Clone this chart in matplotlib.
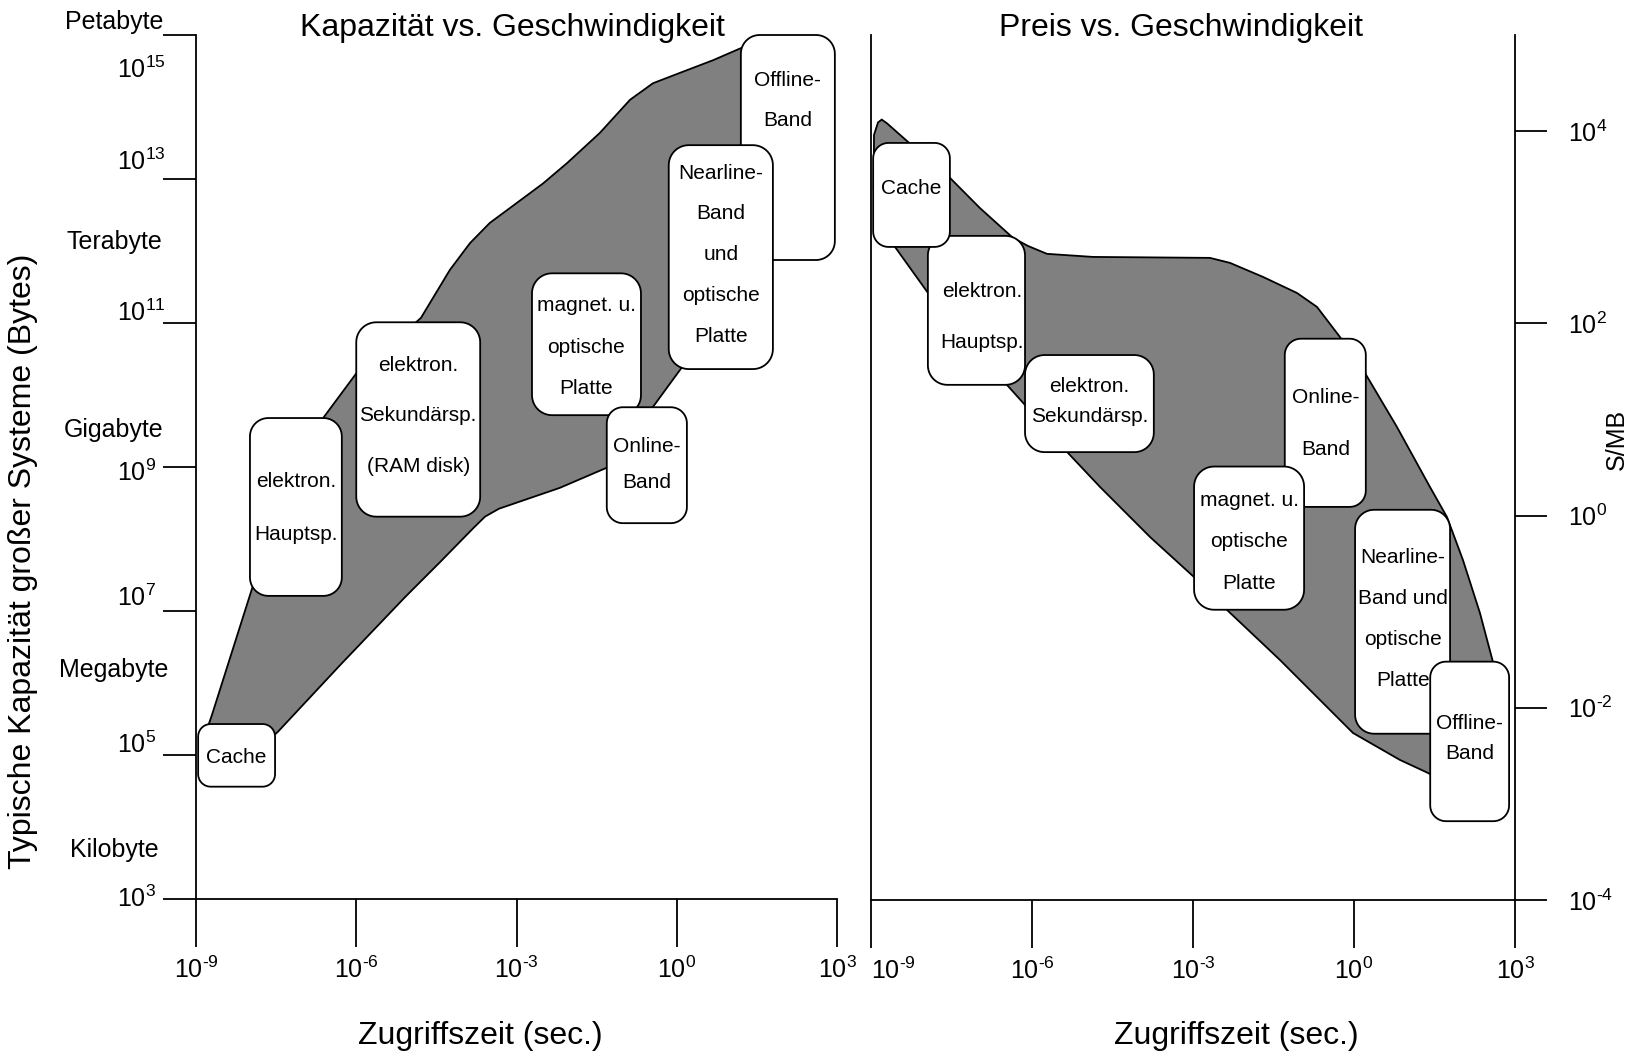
import numpy as np
import matplotlib.pyplot as plt
from matplotlib.transforms import blended_transform_factory

plt.rcParams['font.family'] = ['Liberation Sans', 'DejaVu Sans']
plt.rcParams['mathtext.fontset'] = 'custom'
plt.rcParams['mathtext.rm'] = 'Liberation Sans'
plt.rcParams['mathtext.it'] = 'Liberation Sans:italic'

# ---- data (log10 values) ----
# Kapazitaet vs. Zugriffszeit: outline of the grey band
cap_band_t = [-8.83, -8.70, -7.93, -7.24, -6.62, -6.30, -5.99, -5.37, -4.79, -4.245,
              -3.87, -3.50, -2.99, -2.50, -2.055, -1.44, -0.875, -0.445, 0.115, 0.68,
              1.24, 1.745,
              1.56, 1.28, 0.43, 0.25, -0.45, -0.69, -1.16, -1.31,
              -2.19, -3.33, -3.59, -3.81, -4.43, -5.09, -6.30, -7.47, -7.90]
cap_band_c = [5.28, 5.56, 7.36, 8.82, 9.68, 10.00, 10.31, 10.69, 11.07, 11.74,
              12.11, 12.39, 12.67, 12.94, 13.22, 13.64, 14.10, 14.33, 14.49, 14.65,
              14.83, 14.93,
              14.10, 13.40, 11.32, 10.54, 9.83, 9.58, 9.10, 8.99,
              8.71, 8.42, 8.31, 8.15, 7.68, 7.19, 6.25, 5.32, 5.04]

cap_names = ['Cache', 'elektron.\nHauptsp.', 'elektron.\nSekundärsp.\n(RAM disk)',
             'magnet. u.\noptische\nPlatte', 'Online-\nBand', 'Offline-\nBand',
             'Nearline-\nBand\nund\noptische\nPlatte']
cap_t_lo = [-8.96, -7.99, -6.00, -2.71, -1.31, 1.20, -0.15]
cap_t_hi = [-7.52, -6.27, -3.68, -0.67, 0.19, 2.96, 1.80]
cap_c_lo = [4.56, 7.21, 8.31, 9.72, 8.22, 11.875, 10.36]
cap_c_hi = [5.43, 9.68, 11.01, 11.69, 9.83, 15.0, 13.47]

# Preis vs. Zugriffszeit
price_band_t = [-8.944, -8.87, -8.80, -8.70, -8.311, -7.528, -6.969, -6.354, -6.075, -5.721,
                -4.864, -2.684, -2.311, -1.696, -1.063, -0.69, -0.262, 0.111, 0.204,
                0.80, 1.415, 1.732, 2.03, 2.347, 2.589, 2.627, 1.602, 1.378, 0.857,
                -0.019, -0.392, -1.379, -2.367, -2.963, -3.801, -4.733, -5.329, -6.131,
                -6.466, -7.342, -7.938, -8.553, -8.832, -8.95]
price_band_p = [3.96, 4.09, 4.12, 4.08, 3.888, 3.513, 3.199, 2.889, 2.805, 2.723,
                2.691, 2.681, 2.629, 2.483, 2.316, 2.171, 1.858, 1.567, 1.484,
                0.922, 0.298, -0.015, -0.462, -1.014, -1.523, -1.919, -2.751, -2.678, -2.543,
                -2.262, -2.054, -1.503, -0.982, -0.649, -0.223, 0.298, 0.651, 1.151,
                1.359, 1.879, 2.316, 2.795, 3.076, 3.388]

price_names = ['elektron.\nHauptsp.', 'Cache', 'elektron.\nSekundärsp.', 'Online-\nBand',
               'magnet. u.\noptische\nPlatte', 'Nearline-\nBand und\noptische\nPlatte',
               'Offline-\nBand']
price_t_lo = [-7.94, -8.96, -6.13, -1.29, -2.98, 0.02, 1.42]
price_t_hi = [-6.13, -7.53, -3.73, 0.22, -0.93, 1.79, 2.89]
price_p_lo = [1.36, 2.795, 0.66, 0.09, -0.98, -2.27, -3.18]
price_p_hi = [2.91, 3.877, 1.67, 1.84, 0.51, 0.06, -1.52]

time_exp = [-9, -6, -3, 0, 3]
cap_exp = [3, 5, 7, 9, 11, 13, 15]
cap_units = ['Kilobyte', 'Megabyte', 'Gigabyte', 'Terabyte', 'Petabyte']
cap_unit_exp = [3, 6, 9, 12, 15]
price_exp = [-4, -2, 0, 2, 4]

# label placement tweaks (decades) and text layout in pixels
cap_exp_shift = [0.0, 0.14, 0.19, -0.08, 0.14, 0.24, -0.49]
cap_unit_shift = [0.68, 0.18, 0.51, 0.125, 0.18]
cap_gap = [0, 53, 50.5, 41.5, 35.5, 40, 40.7]
cap_dy = [2.5, 1.5, -3.5, 3, -0.5, -47.5, -2.5]
cap_dx = [0, 0, 0, 0, 0, 0, 0]
price_gap = [51, 0, 30, 52, 41.5, 41, 30]
price_dy = [7, -6, -2.5, 1, 3.5, -3, -2.5]
price_dx = [6, 0, 0, 0, 0, 0, 0]

GREY = '#808080'
LW = 1.3
FS_BOX = 15


def pow10(e):
    # short hyphen instead of the wide math minus
    return r'$\mathregular{10^{%s}}$' % str(e).replace('-', '\u2010')


def rounded_box(ax, lx0, lx1, ly0, ly1, z):
    (x0, y0) = ax.transData.transform((10 ** lx0, 10 ** ly0))
    (x1, y1) = ax.transData.transform((10 ** lx1, 10 ** ly1))
    r = min(20, 0.2 * min(x1 - x0, y1 - y0))
    pts = []
    for cx, cy, a0 in [(x1 - r, y1 - r, 0), (x0 + r, y1 - r, 90),
                       (x0 + r, y0 + r, 180), (x1 - r, y0 + r, 270)]:
        a = np.radians(np.linspace(a0, a0 + 90, 14))
        pts += list(zip(cx + r * np.cos(a), cy + r * np.sin(a)))
    d = ax.transData.inverted().transform(pts)
    ax.fill(d[:, 0], d[:, 1], fc='white', ec='black', lw=LW, zorder=z, clip_on=False)


def box_text(ax, name, lx0, lx1, ly0, ly1, gap, dy, dx, z):
    lines = name.split('\n')
    n = len(lines)
    xc = 10 ** ((lx0 + lx1) / 2)
    yc = 10 ** ((ly0 + ly1) / 2)
    for i, line in enumerate(lines):
        off = -dy + ((n - 1) / 2 - i) * gap
        ax.annotate(line, xy=(xc, yc), xytext=(dx, off), textcoords='offset pixels',
                    ha='center', va='center', fontsize=FS_BOX, zorder=z,
                    annotation_clip=False)


def style_axis(ax):
    ax.set_xscale('log')
    ax.set_yscale('log')
    ax.minorticks_off()
    ax.spines['top'].set_visible(False)
    for s in ax.spines.values():
        s.set_linewidth(LW)
    ax.set_xlim(1e-9, 1e3)
    ax.set_xticks([10.0 ** e for e in time_exp])
    ax.set_xticklabels([pow10(e) for e in time_exp])
    ax.tick_params(axis='x', direction='out', length=34.5, width=LW, pad=7, labelsize=18)
    ax.patch.set_visible(False)


fig = plt.figure(figsize=(16.29, 10.55), dpi=100)
ax1 = fig.add_axes([196 / 1629, 156 / 1055, 641 / 1629, 864 / 1055])
ax2 = fig.add_axes([871 / 1629, 155 / 1055, 644 / 1629, 865 / 1055])

# ---- left panel ----
style_axis(ax1)
ax1.spines['right'].set_visible(False)
ax1.set_ylim(1e3, 1e15)
ax1.set_yticks([10.0 ** e for e in cap_exp])
ax1.set_yticklabels([''] * len(cap_exp))
ax1.tick_params(axis='y', direction='out', length=23.8, width=LW)

ax1.fill(10.0 ** np.array(cap_band_t), 10.0 ** np.array(cap_band_c),
         fc=GREY, ec='black', lw=LW, zorder=1)
for i, name in enumerate(cap_names):
    rounded_box(ax1, cap_t_lo[i], cap_t_hi[i], cap_c_lo[i], cap_c_hi[i], 2 + i)
    box_text(ax1, name, cap_t_lo[i], cap_t_hi[i], cap_c_lo[i], cap_c_hi[i],
             cap_gap[i], cap_dy[i], cap_dx[i], 2.5 + i)

bt1 = blended_transform_factory(ax1.transAxes, ax1.transData)
for e, sh in zip(cap_exp, cap_exp_shift):
    ax1.text(-0.1232, 10 ** (e + sh), pow10(e), transform=bt1,
             ha='left', va='center', fontsize=18)
for u, e, sh in zip(cap_units, cap_unit_exp, cap_unit_shift):
    ax1.text(-0.128, 10 ** (e + sh), u, transform=bt1, ha='center', va='center', fontsize=18)

ax1.text(0.493, 1.008, 'Kapazität vs. Geschwindigkeit', transform=ax1.transAxes,
         ha='center', va='center', fontsize=23)
ax1.text(0.443, -0.159, 'Zugriffszeit (sec.)', transform=ax1.transAxes,
         ha='center', va='center', fontsize=23)
fig.text(23 / 1629, 1 - 561 / 1055, 'Typische Kapazität großer Systeme (Bytes)',
         rotation=90, ha='center', va='center', fontsize=23)

# ---- right panel ----
style_axis(ax2)
ax2.set_ylim(1e-4, 1e5)
ax2.yaxis.tick_right()
ax2.set_yticks([10.0 ** e for e in price_exp])
ax2.set_yticklabels([pow10(e) for e in price_exp])
ax2.tick_params(axis='y', direction='out', length=23, width=LW, pad=15, labelsize=18)
ax2.get_xticklabels()[0].set_horizontalalignment('left')

ax2.fill(10.0 ** np.array(price_band_t), 10.0 ** np.array(price_band_p),
         fc=GREY, ec='black', lw=LW, zorder=1)
for i, name in enumerate(price_names):
    rounded_box(ax2, price_t_lo[i], price_t_hi[i], price_p_lo[i], price_p_hi[i], 2 + i)
    box_text(ax2, name, price_t_lo[i], price_t_hi[i], price_p_lo[i], price_p_hi[i],
             price_gap[i], price_dy[i], price_dx[i], 2.5 + i)

ax2.text(0.481, 1.008, 'Preis vs. Geschwindigkeit', transform=ax2.transAxes,
         ha='center', va='center', fontsize=23)
ax2.text(0.567, -0.157, 'Zugriffszeit (sec.)', transform=ax2.transAxes,
         ha='center', va='center', fontsize=23)
ax2.text(1.158, 0.532, 'S/MB', transform=ax2.transAxes, rotation=90,
         ha='center', va='center', fontsize=18)

fig.savefig('out.png', dpi=100)
